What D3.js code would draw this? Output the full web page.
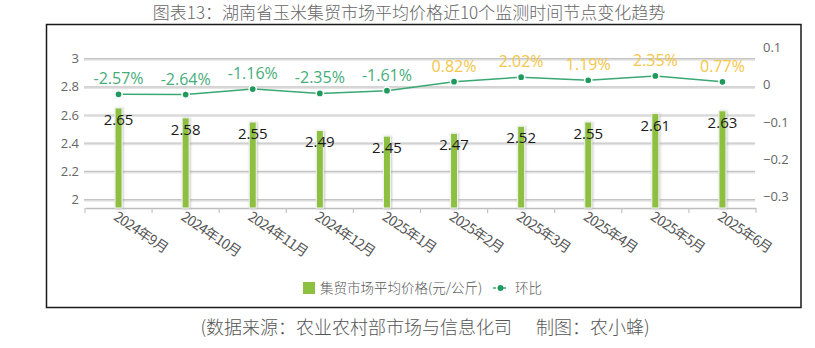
<!DOCTYPE html>
<html>
<head>
<meta charset="utf-8">
<script src="https://cdn.jsdelivr.net/npm/d3@7"></script>
<style>
  html, body { margin: 0; padding: 0; background: #fff; }
  svg { display: block; font-family: "Noto Sans CJK SC", "Noto Sans", sans-serif; }
</style>
</head>
<body>
<svg id="chart" width="815" height="348"></svg>
<script>
// Monitoring dates, average corn price (yuan/kg) and month-on-month change (%)
const months = ["2024年9月", "2024年10月", "2024年11月", "2024年12月", "2025年1月",
                "2025年2月", "2025年3月", "2025年4月", "2025年5月", "2025年6月"];
const prices = [2.65, 2.58, 2.55, 2.49, 2.45, 2.47, 2.52, 2.55, 2.61, 2.63];
const changes = [-2.57, -2.64, -1.16, -2.35, -1.61, 0.82, 2.02, 1.19, 2.35, 0.77];
const leftTicks = [2, 2.2, 2.4, 2.6, 2.8, 3];
const rightTicks = [0.1, 0, -0.1, -0.2, -0.3];
const titleText = "图表13：湖南省玉米集贸市场平均价格近10个监测时间节点变化趋势";
const sourceText = "(数据来源：农业农村部市场与信息化司      制图：农小蜂)";
const legendBar = "集贸市场平均价格(元/公斤)";
const legendLine = "环比";

const svg = d3.select("#chart");
const barColor = "#8dc03f";
const lineColor = "#3aa872";
const negColor = "#46ad7a";
const posColor = "#f4c646";

// outer frame
svg.append("rect").attr("x", 46.5).attr("y", 24.5).attr("width", 754.5).attr("height", 283)
  .attr("fill", "none").attr("stroke", "#1a1a1a").attr("stroke-width", 1.5);

// title
svg.append("text").attr("x", 409).attr("y", 19).attr("text-anchor", "middle")
  .attr("font-size", 17).attr("font-weight", 300).attr("fill", "#666").text(titleText);

// scales
const x = d3.scaleBand().domain(months).range([85, 756]);
const cx = d => x(d) + x.bandwidth() / 2;
const yL = d3.scaleLinear().domain([1.94, 3]).range([208, 58.6]);
const yR = d3.scaleLinear().domain([-0.3, 0]).range([196.7, 84.7]);

// horizontal grid lines (left axis ticks)
const grid = svg.append("g");
leftTicks.forEach(t => {
  grid.append("line").attr("x1", 84).attr("x2", 755)
    .attr("y1", yL(t) + 1.3).attr("y2", yL(t) + 1.3)
    .attr("stroke", "#e4e4e4").attr("stroke-width", 1.6);
  grid.append("line").attr("x1", 84).attr("x2", 755)
    .attr("y1", yL(t)).attr("y2", yL(t))
    .attr("stroke", "#c4c4c4").attr("stroke-width", 1.2);
});

// left axis labels
const leftAxis = d3.axisLeft(yL).tickValues(leftTicks).tickSize(0).tickPadding(0)
  .tickFormat(d3.format("~g"));
svg.append("g").attr("transform", "translate(79,0)").call(leftAxis)
  .call(g => g.select(".domain").remove())
  .call(g => g.selectAll("text").attr("fill", "#666").attr("font-size", 13)
    .attr("font-family", "'Open Sans', 'Noto Sans', sans-serif"));

// right axis labels
const rightAxis = d3.axisRight(yR).tickValues(rightTicks).tickSize(0).tickPadding(0)
  .tickFormat(d3.format("~g"));
svg.append("g").attr("transform", "translate(763,0)").call(rightAxis)
  .call(g => g.select(".domain").remove())
  .call(g => g.selectAll("text").attr("fill", "#666").attr("font-size", 13)
    .attr("font-family", "'Open Sans', 'Noto Sans', sans-serif"));

// x axis with ticks on band boundaries
const xAxis = d3.axisBottom(x).tickSize(0).tickFormat("");
const xg = svg.append("g").attr("transform", "translate(0,208)").call(xAxis);
xg.select(".domain").attr("stroke", "#bdbdbd").attr("stroke-width", 1.5);
const bounds = months.map(m => x(m)).concat([x.range()[1]]);
xg.selectAll(".bound").data(bounds).join("line").attr("class", "bound")
  .attr("x1", d => d).attr("x2", d => d).attr("y1", 0).attr("y2", 5)
  .attr("stroke", "#c4c4c4").attr("stroke-width", 1.2);

// rotated category labels
svg.append("g").selectAll("text").data(months).join("text")
  .attr("transform", d => `translate(${cx(d) - 3},${215}) rotate(34)`)
  .attr("dy", "0.35em")
  .attr("font-size", 14).attr("fill", "#555").attr("letter-spacing", -0.8)
  .text(d => d);

// bars with light outline and soft shadow
const defs = svg.append("defs");
const f = defs.append("filter").attr("id", "shadow").attr("x", "-50%").attr("y", "-10%")
  .attr("width", "200%").attr("height", "120%");
f.append("feDropShadow").attr("dx", 0.8).attr("dy", 0.5).attr("stdDeviation", 0.8)
  .attr("flood-color", "#999").attr("flood-opacity", 0.6);

const barW = 7;
svg.append("g").selectAll("rect").data(prices).join("rect")
  .attr("x", (d, i) => cx(months[i]) - barW / 2)
  .attr("y", d => yL(d))
  .attr("width", barW)
  .attr("height", d => yL.range()[0] - yL(d))
  .attr("fill", barColor).attr("stroke", "#f4f4f4").attr("stroke-width", 1)
  .attr("filter", "url(#shadow)");

// bar value labels
svg.append("g").selectAll("text").data(prices).join("text")
  .attr("x", (d, i) => cx(months[i]))
  .attr("y", d => yL(d) + 17)
  .attr("text-anchor", "middle").attr("font-size", 15).attr("fill", "#1a1a1a")
  .attr("font-family", "'Open Sans', 'Noto Sans', sans-serif")
  .text(d => d.toFixed(2));

// month-on-month line
const line = d3.line().x((d, i) => cx(months[i])).y(d => yR(d / 100));
svg.append("path").datum(changes).attr("d", line)
  .attr("fill", "none").attr("stroke", lineColor).attr("stroke-width", 1.5);
svg.append("g").selectAll("circle").data(changes).join("circle")
  .attr("cx", (d, i) => cx(months[i])).attr("cy", d => yR(d / 100))
  .attr("r", 3.6).attr("fill", "#1f9a5c").attr("stroke", "#fff").attr("stroke-width", 1.5);

// line value labels
svg.append("g").selectAll("text").data(changes).join("text")
  .attr("x", (d, i) => cx(months[i]))
  .attr("y", d => yR(d / 100) - 10)
  .attr("text-anchor", "middle").attr("font-size", 16)
  .attr("font-family", "'Open Sans', 'Noto Sans', sans-serif")
  .attr("fill", d => d < 0 ? negColor : posColor)
  .text(d => d.toFixed(2) + "%");

// legend
const lg = svg.append("g");
lg.append("rect").attr("x", 303).attr("y", 282).attr("width", 12).attr("height", 12).attr("fill", barColor);
lg.append("text").attr("x", 320).attr("y", 293).attr("font-size", 13.5).attr("font-weight", 300)
  .attr("fill", "#555").text(legendBar);
lg.append("line").attr("x1", 493).attr("x2", 508).attr("y1", 288).attr("y2", 288)
  .attr("stroke", lineColor).attr("stroke-width", 1.5).attr("stroke-dasharray", "3,2");
lg.append("circle").attr("cx", 500.5).attr("cy", 288).attr("r", 3).attr("fill", "#1f9a5c");
lg.append("text").attr("x", 515).attr("y", 293).attr("font-size", 13.5).attr("font-weight", 300)
  .attr("fill", "#555").text(legendLine);

// source note
svg.append("text").attr("x", 425).attr("y", 334).attr("text-anchor", "middle")
  .attr("font-size", 18).attr("font-weight", 300).attr("fill", "#555")
  .style("white-space", "pre").text(sourceText);
</script>
</body>
</html>
